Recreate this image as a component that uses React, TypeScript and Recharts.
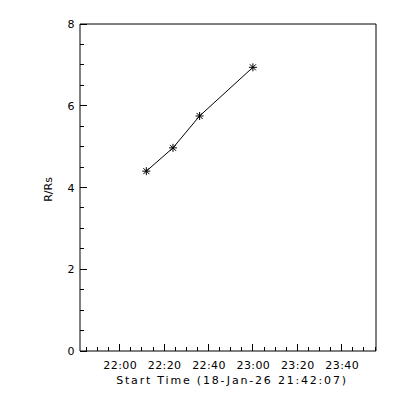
import { ComposedChart, Line, XAxis, YAxis, Label } from "recharts";

// observation times in minutes of day, and heights in solar radii
const times = [1332, 1344, 1356, 1380];
const heights = [4.4, 4.97, 5.75, 6.94];

const startMin = 21 * 60 + 42 + 7 / 60; // 21:42:07
const endMin = startMin + 8000 / 60;

const xMajorTicks = [1320, 1340, 1360, 1380, 1400, 1420];
const xAllTicks = Array.from({ length: 27 }, (_, i) => 1305 + i * 5);
const yMajorTicks = [0, 2, 4, 6, 8];
const yAllTicks = Array.from({ length: 17 }, (_, i) => i * 0.5);

const xTitle = "Start Time (18-Jan-26 21:42:07)";
const yTitle = "R/Rs";

const data = times.map((t, i) => ({ t, r: heights[i] }));

const FONT = "DejaVu Sans, sans-serif";

const fmtTime = (m: number) => `${Math.floor(m / 60)}:${String(Math.round(m % 60)).padStart(2, "0")}`;

// tick line + label drawn together, so minor ticks can be shorter than major ones
function XTick(props: any) {
  const { x, y, payload, side } = props;
  const major = xMajorTicks.includes(payload.value);
  const len = major ? 7 : 4;
  const dir = side === "bottom" ? -1 : 1;
  return (
    <g>
      <line x1={x} x2={x} y1={y} y2={y + dir * len} stroke="#000" shapeRendering="crispEdges" />
      {side === "bottom" && major && (
        <text x={x + 0.5} y={y + 18} textAnchor="middle" fontFamily={FONT} fontSize={11} letterSpacing={0.4} fill="#000">
          {fmtTime(payload.value)}
        </text>
      )}
    </g>
  );
}

function YTick(props: any) {
  const { x, y, payload, side } = props;
  const major = yMajorTicks.includes(payload.value);
  const len = major ? 7 : 4;
  const dir = side === "left" ? 1 : -1;
  return (
    <g>
      <line x1={x} x2={x + dir * len} y1={y} y2={y} stroke="#000" shapeRendering="crispEdges" />
      {side === "left" && major && (
        <text x={x - 5.5} y={y + 4} textAnchor="end" fontFamily={FONT} fontSize={11} fill="#000">
          {payload.value}
        </text>
      )}
    </g>
  );
}

function Asterisk(props: any) {
  const { cx, cy, index } = props;
  if (cx == null || cy == null) return null;
  const r = 4;
  const d = 3;
  return (
    <g key={`star-${index}`} stroke="#000" strokeWidth={1}>
      <line x1={cx - r} y1={cy} x2={cx + r} y2={cy} />
      <line x1={cx} y1={cy - r} x2={cx} y2={cy + r} />
      <line x1={cx - d} y1={cy - d} x2={cx + d} y2={cy + d} />
      <line x1={cx - d} y1={cy + d} x2={cx + d} y2={cy - d} />
    </g>
  );
}

export default function App() {
  const commonX = {
    type: "number" as const,
    domain: [startMin, endMin],
    ticks: xAllTicks,
    interval: 0 as const,
    stroke: "#000",
    tickLine: false,
    tickSize: 0,
    tickMargin: 0,
  };
  const commonY = {
    type: "number" as const,
    domain: [0, 8],
    ticks: yAllTicks,
    interval: 0 as const,
    stroke: "#000",
    tickLine: false,
    tickSize: 0,
    tickMargin: 0,
  };

  return (
    <div style={{ position: "absolute", left: 0, top: 0, width: 400, height: 400, background: "#fff" }}>
      <ComposedChart width={400} height={400} data={data} margin={{ top: 23, right: 23, left: 0, bottom: 0 }}>
        <XAxis xAxisId="main" dataKey="t" {...commonX} height={49} tick={(p: any) => <XTick {...p} side="bottom" />}>
          <Label
            content={({ viewBox }: any) => (
              <text
                x={viewBox.x + viewBox.width / 2 + 4}
                y={viewBox.y + 33}
                textAnchor="middle"
                fontFamily={FONT}
                fontSize={11}
                letterSpacing={1.8}
                fill="#000"
              >
                {xTitle}
              </text>
            )}
          />
        </XAxis>
        <XAxis xAxisId="top" orientation="top" {...commonX} height={1} tick={(p: any) => <XTick {...p} side="top" />} />

        <YAxis yAxisId="main" {...commonY} width={80} tick={(p: any) => <YTick {...p} side="left" />}>
          <Label
            content={({ viewBox }: any) => (
              <text
                transform={`translate(${viewBox.x + viewBox.width - 28}, ${viewBox.y + viewBox.height / 2 + 2}) rotate(-90)`}
                textAnchor="middle"
                fontFamily={FONT}
                fontSize={11}
                fill="#000"
              >
                {yTitle}
              </text>
            )}
          />
        </YAxis>
        <YAxis yAxisId="right" orientation="right" {...commonY} width={1} tick={(p: any) => <YTick {...p} side="right" />} />

        <Line
          xAxisId="main"
          yAxisId="main"
          dataKey="r"
          type="linear"
          stroke="#000"
          strokeWidth={1}
          dot={Asterisk}
          activeDot={false}
          isAnimationActive={false}
        />
      </ComposedChart>
    </div>
  );
}
